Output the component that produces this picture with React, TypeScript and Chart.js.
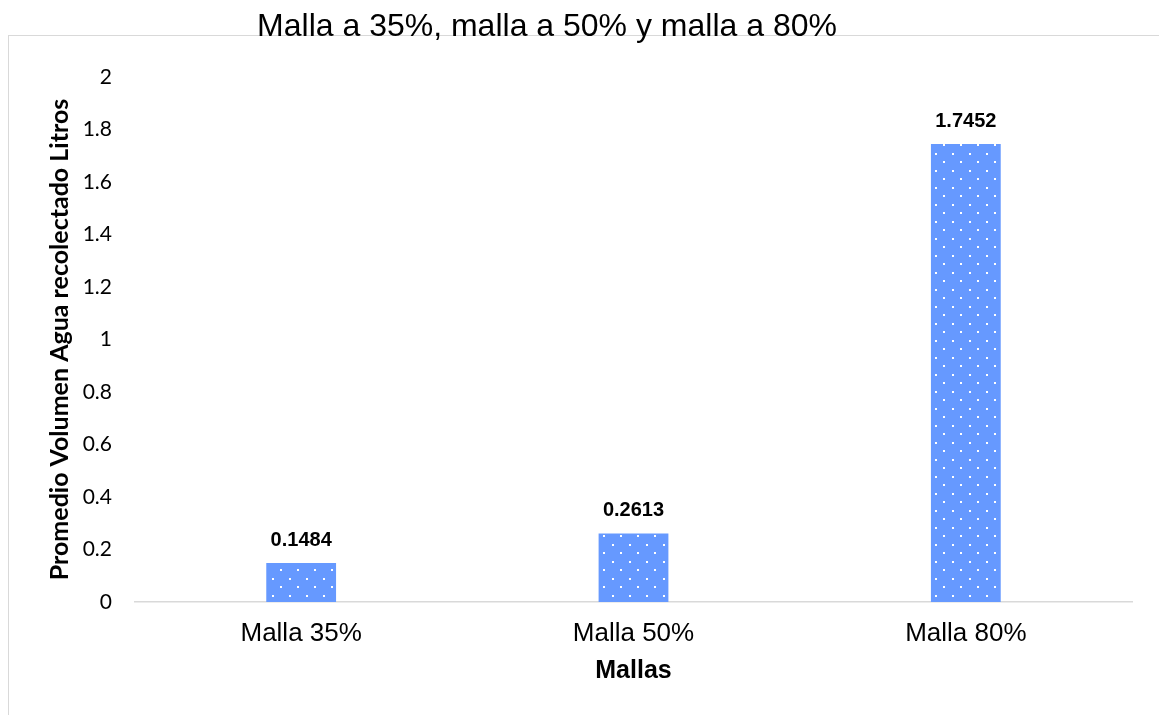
import React, { useEffect, useRef } from "react";
import { Chart, registerables } from "chart.js";

Chart.register(...registerables);

// Average collected water volume (litres) per mesh type
const categories: string[] = ["Malla 35%", "Malla 50%", "Malla 80%"];
const volumes: number[] = [0.1484, 0.2613, 1.7452];

const chartTitle = "Malla a 35%, malla a 50% y malla a 80%";
const xAxisTitle = "Mallas";
const yAxisTitle = "Promedio Volumen Agua recolectado Litros";

const W = 1159;
const H = 715;

// White dots on blue, staggered rows
function makeDotPattern(ctx: CanvasRenderingContext2D): CanvasPattern | string {
  const tile = document.createElement("canvas");
  tile.width = 17;
  tile.height = 17;
  const t = tile.getContext("2d");
  if (!t) return "#6699ff";
  t.fillStyle = "#6699ff";
  t.fillRect(0, 0, 17, 17);
  t.fillStyle = "#ffffff";
  t.fillRect(0, 0, 2, 2);
  t.fillRect(8, 8, 2, 2);
  return ctx.createPattern(tile, "repeat") || "#6699ff";
}

const titlePlugin = {
  id: "topTitle",
  afterDraw(chart: Chart) {
    const ctx = chart.ctx;
    ctx.save();
    ctx.font = '32px "Liberation Sans", Arial, sans-serif';
    ctx.fillStyle = "#000000";
    ctx.textAlign = "center";
    ctx.textBaseline = "alphabetic";
    ctx.fillText(chartTitle, 547, 36);
    ctx.restore();
  },
};

const valueLabelPlugin = {
  id: "valueLabels",
  afterDatasetsDraw(chart: Chart) {
    const ctx = chart.ctx;
    const meta = chart.getDatasetMeta(0);
    const data = chart.data.datasets[0].data as number[];
    ctx.save();
    ctx.font = 'bold 20px "Liberation Sans", Arial, sans-serif';
    ctx.fillStyle = "#000000";
    ctx.textAlign = "center";
    ctx.textBaseline = "alphabetic";
    meta.data.forEach((bar: any, i: number) => {
      ctx.fillText(String(data[i]), bar.x, bar.y - 17);
    });
    ctx.restore();
  },
};

export default function App() {
  const canvasRef = useRef<HTMLCanvasElement | null>(null);

  useEffect(() => {
    const canvas = canvasRef.current;
    if (!canvas) return;
    const ctx = canvas.getContext("2d");
    if (!ctx) return;
    const pattern = makeDotPattern(ctx);

    const chart = new Chart(ctx, {
      type: "bar",
      data: {
        labels: categories,
        datasets: [
          {
            data: volumes,
            backgroundColor: pattern as any,
            borderWidth: 0,
            barPercentage: 0.21,
            categoryPercentage: 1,
          },
        ],
      },
      options: {
        animation: false,
        responsive: false,
        maintainAspectRatio: false,
        layout: { padding: { top: 77, right: 27, bottom: 0, left: 0 } },
        plugins: {
          legend: { display: false },
          title: { display: false },
          tooltip: { enabled: false },
        },
        scales: {
          x: {
            grid: { display: false, drawTicks: false },
            border: { display: true, color: "#d9d9d9", width: 1.5 },
            ticks: {
              color: "#000000",
              padding: 16,
              font: { family: '"Liberation Sans", Arial, sans-serif', size: 26 },
            },
            title: {
              display: true,
              text: xAxisTitle,
              color: "#000000",
              padding: { top: 4, bottom: 29 },
              font: { family: '"Liberation Sans", Arial, sans-serif', size: 25, weight: "bold" },
            },
            afterFit(scale: any) {
              scale.height = 113;
            },
          },
          y: {
            min: 0,
            max: 2,
            grid: { display: false, drawTicks: false },
            border: { display: false },
            ticks: {
              stepSize: 0.2,
              color: "#000000",
              padding: 23,
              font: { family: "Lato, sans-serif", size: 21 },
              callback: (v: any) => String(Number(Number(v).toFixed(1))),
            },
            title: {
              display: true,
              text: yAxisTitle,
              color: "#000000",
              padding: { top: 45, bottom: 0 },
              font: { family: "Lato, sans-serif", size: 25, weight: "bold" },
            },
            afterFit(scale: any) {
              scale.width = 135;
            },
          },
        },
      },
      plugins: [titlePlugin, valueLabelPlugin],
    });

    return () => chart.destroy();
  }, []);

  return (
    <div style={{ position: "fixed", left: 0, top: 0, width: W, height: H, background: "#ffffff" }}>
      <div
        style={{
          position: "absolute",
          left: 8,
          top: 35,
          width: W - 8,
          height: H - 35,
          borderTop: "1.5px solid #d9d9d9",
          borderLeft: "1.5px solid #d9d9d9",
          boxSizing: "border-box",
        }}
      />
      <canvas
        ref={canvasRef}
        width={W}
        height={H}
        style={{ position: "absolute", left: 0, top: 0, width: W, height: H }}
      />
    </div>
  );
}
